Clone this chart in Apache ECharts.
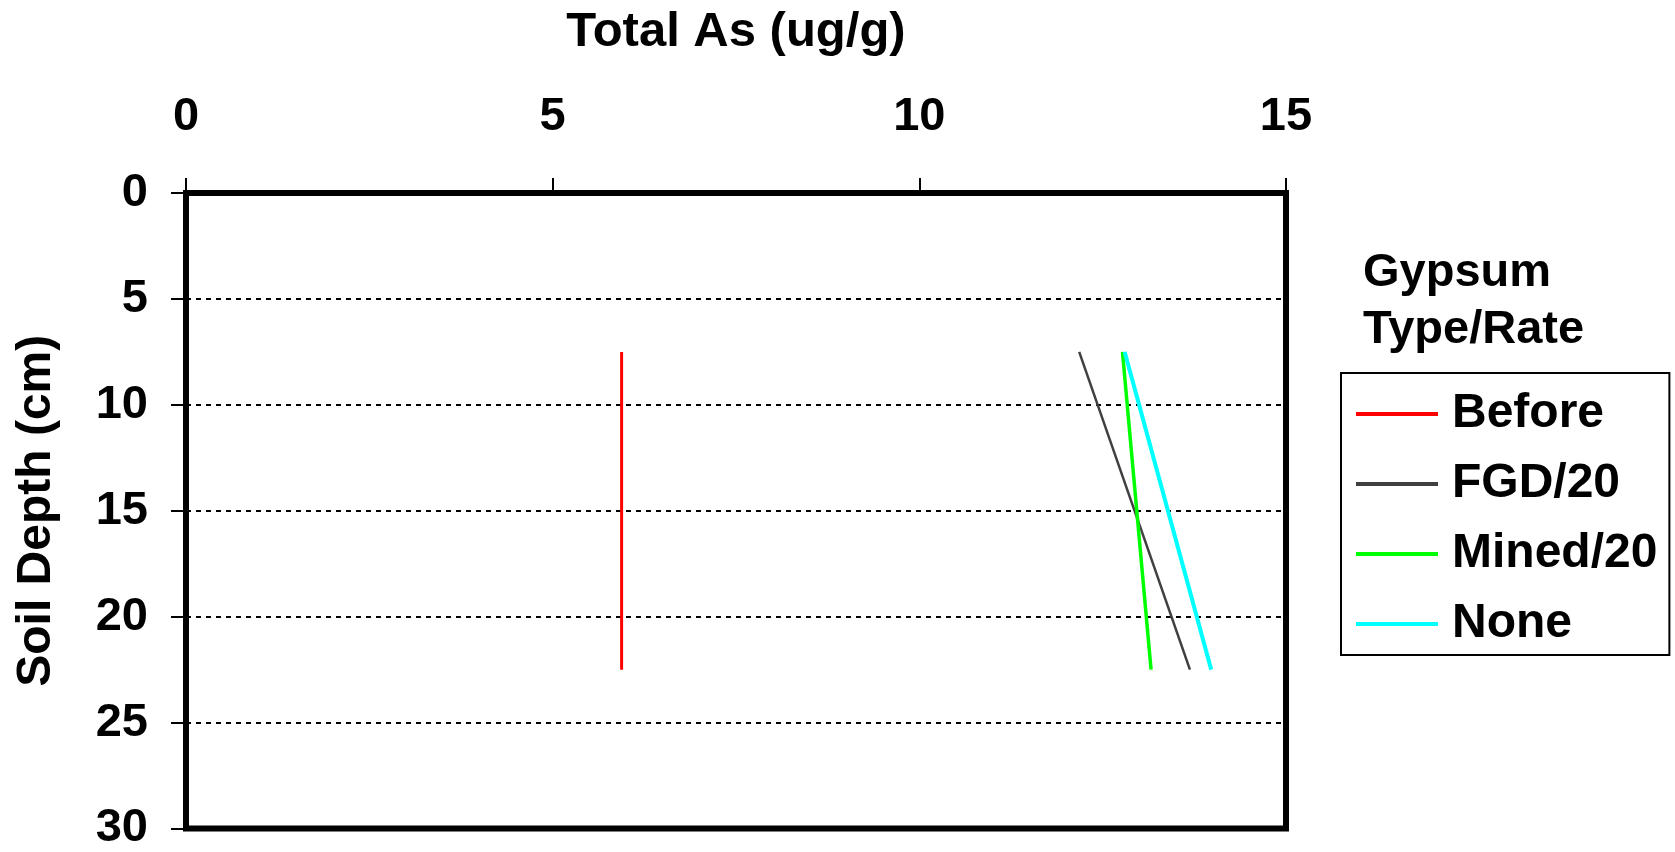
<!DOCTYPE html>
<html>
<head>
<meta charset="utf-8">
<script src="https://cdn.jsdelivr.net/npm/echarts@6/dist/echarts.min.js"></script>
<style>
  html, body { margin: 0; padding: 0; background: #fff; }
  #chart { width: 1675px; height: 852px; }
</style>
</head>
<body>
<div id="chart"></div>
<script>
// soil depth of the two sample midpoints (cm)
const depths = [7.5, 22.5];
// total As (ug/g) for each gypsum treatment
const before = [5.94, 5.94];
const fgd20 = [12.18, 13.69];
const mined20 = [12.77, 13.16];
const none = [12.80, 13.98];

const seriesNames = ["Before", "FGD/20", "Mined/20", "None"];
const seriesValues = [before, fgd20, mined20, none];
const seriesColors = ["#ff0000", "#404040", "#00ff00", "#00ffff"];
const seriesWidths = [3, 2.5, 3.5, 4];

const font = "'Liberation Sans', Arial, sans-serif";

const chart = echarts.init(document.getElementById("chart"));

const options = {
  animation: false,
  title: {
    text: "Gypsum\nType/Rate",
    left: 1358,
    top: 240,
    textStyle: {
      fontFamily: font,
      fontWeight: "bold",
      fontSize: 47,
      lineHeight: 57,
      color: "#000",
    },
  },
  grid: {
    left: 186,
    right: 389,
    top: 193,
    bottom: 17,
    show: true,
    borderColor: "#000",
    borderWidth: 6,
  },
  legend: {
    orient: "vertical",
    left: 1341,
    top: 373,
    data: seriesNames,
    icon: "rect",
    itemWidth: 82,
    itemHeight: 4,
    itemGap: 20,
    padding: [16, 12, 6, 15],
    borderColor: "#000",
    borderWidth: 2,
    textStyle: {
      fontFamily: font,
      fontWeight: "bold",
      fontSize: 48,
      lineHeight: 50,
      color: "#000",
      padding: [0, 0, 0, 9],
    },
  },
  xAxis: {
    type: "value",
    position: "top",
    min: 0,
    max: 15,
    interval: 5,
    name: "Total As (ug/g)",
    nameLocation: "middle",
    nameGap: 136,
    nameTextStyle: {
      fontFamily: font,
      fontWeight: "bold",
      fontSize: 49,
      color: "#000",
    },
    axisLine: { show: false },
    axisTick: { show: true, length: 15, lineStyle: { color: "#000", width: 2 } },
    axisLabel: {
      fontFamily: font,
      fontWeight: "bold",
      fontSize: 47,
      color: "#000",
      margin: 52,
    },
    splitLine: { show: false },
  },
  yAxis: {
    type: "value",
    inverse: true,
    min: 0,
    max: 30,
    interval: 5,
    name: "Soil Depth (cm)",
    nameLocation: "middle",
    nameGap: 125,
    nameTextStyle: {
      fontFamily: font,
      fontWeight: "bold",
      fontSize: 48,
      color: "#000",
    },
    axisLine: { show: false },
    axisTick: { show: true, length: 15, lineStyle: { color: "#000", width: 2 } },
    axisLabel: {
      fontFamily: font,
      fontWeight: "bold",
      fontSize: 47,
      color: "#000",
      margin: 38,
    },
    splitLine: {
      show: true,
      lineStyle: { color: "#000", width: 2, type: [5, 5] },
    },
  },
  series: seriesNames.map((name, i) => ({
    name: name,
    type: "line",
    data: seriesValues[i].map((v, j) => [v, depths[j]]),
    showSymbol: false,
    symbol: "none",
    color: seriesColors[i],
    lineStyle: { color: seriesColors[i], width: seriesWidths[i] },
  })),
};

chart.setOption(options);
</script>
</body>
</html>
